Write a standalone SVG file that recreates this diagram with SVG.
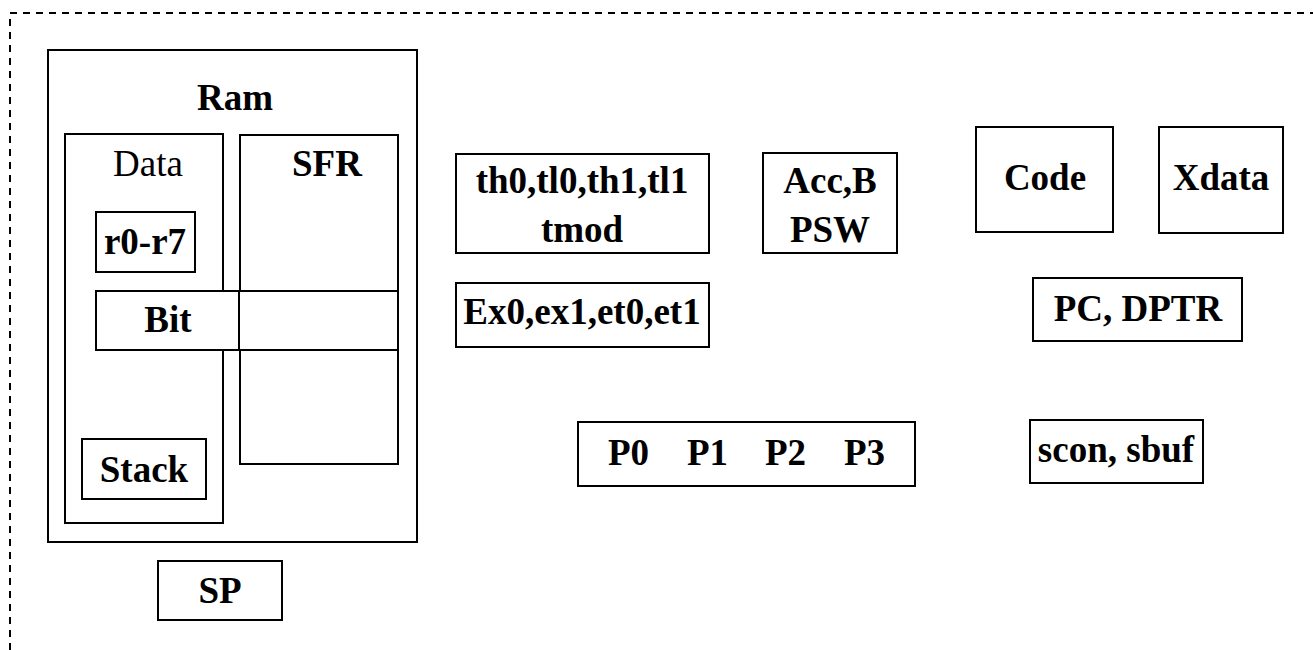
<svg xmlns="http://www.w3.org/2000/svg" width="1313" height="650" viewBox="0 0 1313 650">
  <style>
    .box { fill: none; stroke: #000; stroke-width: 2; }
    .frame { fill: none; stroke: #000; stroke-width: 2; stroke-dasharray: 7 6; }
    .t { font-family: "Liberation Serif", "Times New Roman", serif; font-size: 37px; font-weight: bold; fill: #000; text-anchor: middle; }
    .reg { font-weight: normal; }
    .s { text-anchor: start; }
  </style>
  <rect width="1313" height="650" fill="#fff"/>

  <!-- outer dashed boundary -->
  <path class="frame" d="M10,650 V13 H1313"/>

  <!-- internal RAM -->
  <g id="ram">
    <rect class="box" x="48" y="50" width="369" height="492"/>
    <text class="t" x="235" y="110">Ram</text>
  </g>
  <g id="data">
    <rect class="box" x="65" y="134" width="158" height="389"/>
    <text class="t reg" x="148" y="176">Data</text>
  </g>
  <g id="sfr">
    <rect class="box" x="240" y="135" width="158" height="329"/>
    <text class="t" x="327" y="176">SFR</text>
  </g>
  <g id="r0r7">
    <rect class="box" x="96" y="212" width="99" height="60"/>
    <text class="t" x="145" y="254">r0-r7</text>
  </g>
  <g id="bit">
    <rect class="box" x="96" y="291" width="302" height="59" fill="#fff" style="fill:#fff"/>
    <line class="box" x1="239" y1="291" x2="239" y2="350"/>
    <text class="t" x="168" y="332">Bit</text>
  </g>
  <g id="stack">
    <rect class="box" x="82" y="439" width="124" height="60"/>
    <text class="t" x="144" y="482">Stack</text>
  </g>
  <g id="sp">
    <rect class="box" x="158" y="561" width="124" height="59"/>
    <text class="t" x="220" y="603">SP</text>
  </g>

  <!-- timer / interrupt / core registers -->
  <g id="timers">
    <rect class="box" x="456" y="154" width="253" height="99"/>
    <text class="t" x="582" y="193">th0,tl0,th1,tl1</text>
    <text class="t" x="582" y="242">tmod</text>
  </g>
  <g id="acc">
    <rect class="box" x="763" y="153" width="134" height="100"/>
    <text class="t" x="830" y="193">Acc,B</text>
    <text class="t" x="830" y="242">PSW</text>
  </g>
  <g id="ie">
    <rect class="box" x="456" y="283" width="253" height="64"/>
    <text class="t" x="582" y="324">Ex0,ex1,et0,et1</text>
  </g>
  <g id="ports">
    <rect class="box" x="578" y="422" width="337" height="64"/>
    <text class="t s" y="465"><tspan x="608">P0</tspan><tspan x="687">P1</tspan><tspan x="765">P2</tspan><tspan x="844">P3</tspan></text>
  </g>

  <!-- external memories and pointers -->
  <g id="code">
    <rect class="box" x="976" y="127" width="137" height="105"/>
    <text class="t" x="1045" y="190">Code</text>
  </g>
  <g id="xdata">
    <rect class="box" x="1159" y="127" width="124" height="106"/>
    <text class="t" x="1221" y="190">Xdata</text>
  </g>
  <g id="pc">
    <rect class="box" x="1033" y="278" width="209" height="63"/>
    <text class="t" x="1138" y="321">PC, DPTR</text>
  </g>
  <g id="serial">
    <rect class="box" x="1030" y="420" width="173" height="63"/>
    <text class="t" x="1116" y="462">scon, sbuf</text>
  </g>

  <g id="connectors"/>
</svg>
